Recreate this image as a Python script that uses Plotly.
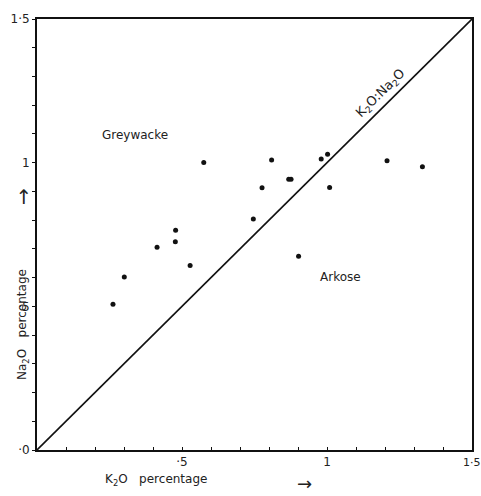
import plotly.graph_objects as go

# Data
k2o = [0.575, 0.809, 0.980, 1.002, 0.776, 0.868, 0.876, 1.009, 0.746, 0.478,
       0.477, 0.414, 0.528, 0.902, 0.301, 0.262, 1.207, 1.329]
na2o = [1.001, 1.009, 1.013, 1.029, 0.913, 0.942, 0.942, 0.914, 0.804, 0.765,
        0.725, 0.706, 0.642, 0.674, 0.602, 0.507, 1.007, 0.986]

ratio_line_x = [0, 1.5]
ratio_line_y = [0, 1.5]

tick_vals = [i / 10 for i in range(16)]
x_labels = {0.5: "·5", 1.0: "1"}
y_labels = {0.0: "·0", 0.5: "·5", 1.0: "1", 1.5: "1·5"}
x_tick_text = [x_labels.get(v, "") for v in tick_vals]
y_tick_text = [y_labels.get(v, "") for v in tick_vals]
x_end_label = "1·5"

FONT = "DejaVu Sans"
L, R, T, B = 37, 9, 19, 46
W, H = 481, 496
pw, ph = W - L - R, H - T - B

fig = go.Figure()
fig.add_trace(go.Scatter(x=ratio_line_x, y=ratio_line_y, mode="lines",
                         line=dict(color="#111", width=1.6), hoverinfo="skip"))
fig.add_trace(go.Scatter(x=k2o, y=na2o, mode="markers",
                         marker=dict(color="#111", size=5)))

axis_common = dict(range=[0, 1.5], showgrid=False, zeroline=False, showline=True,
                   linecolor="#111", linewidth=2, mirror=True, tickmode="array",
                   tickvals=tick_vals, ticklen=3, tickwidth=1.2, tickcolor="#111",
                   tickfont=dict(family=FONT, size=12, color="#222"))
fig.update_xaxes(**axis_common, ticktext=x_tick_text, ticks="inside")
fig.update_yaxes(**axis_common, ticktext=y_tick_text, ticks="outside")

# end label of the x axis, placed at the axis maximum
fig.add_annotation(xref="x", yref="paper", x=ratio_line_x[-1], y=0, yshift=-12,
                   text=x_end_label, showarrow=False, xanchor="center", yanchor="middle",
                   font=dict(family=FONT, size=11, color="#222"))

ann = [
    dict(px=100, py=135, text="Greywacke", xanchor="left"),
    dict(px=318, py=277, text="Arkose", xanchor="left"),
    dict(px=381, py=94, text="K<sub>2</sub>O:Na<sub>2</sub>O", textangle=-44.7, size=13),
    dict(px=156, py=480, text="K<sub>2</sub>O   percentage"),
    dict(px=304, py=483, text="→", size=18),
    dict(px=23, py=325, text="Na<sub>2</sub>O   percentage", textangle=-90),
    dict(px=23, py=197, text="→", textangle=-90, size=20),
]
for a in ann:
    size = a.pop("size", 12)
    px, py = a.pop("px"), a.pop("py")
    a.setdefault("xanchor", "center")
    fig.add_annotation(xref="paper", yref="paper",
                       x=(px - L) / pw, y=(H - B - py) / ph, yanchor="middle",
                       showarrow=False,
                       font=dict(family=FONT, size=size, color="#222"), **a)

fig.update_layout(width=W, height=H,
                  margin=dict(l=L, r=R, t=T, b=B, autoexpand=False),
                  paper_bgcolor="white", plot_bgcolor="white", showlegend=False)
fig.write_html("out.html")
